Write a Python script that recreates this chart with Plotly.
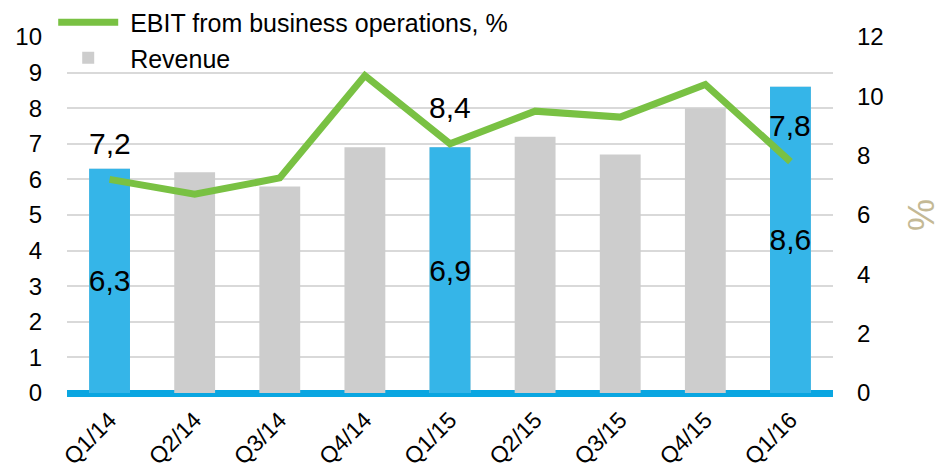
import plotly.graph_objects as go

quarters = ["Q1/14", "Q2/14", "Q3/14", "Q4/14", "Q1/15", "Q2/15", "Q3/15", "Q4/15", "Q1/16"]
revenue = [6.3, 6.2, 5.8, 6.9, 6.9, 7.2, 6.7, 8.0, 8.6]
ebit_pct = [7.2, 6.7, 7.25, 10.7, 8.4, 9.5, 9.3, 10.4, 7.8]
highlight = ["Q1/14", "Q1/15", "Q1/16"]

left_ticks = list(range(0, 11))
right_ticks = list(range(0, 13, 2))

BLUE = "#35b5e8"
GRAY = "#cdcdcd"
GREEN = "#79c143"
FONT = "Liberation Sans, Arial, sans-serif"


def fmt(v):
    return f"{v:.1f}".replace(".", ",")


hl_vals = [v if q in highlight else None for q, v in zip(quarters, revenue)]
hl_text = [fmt(v) if q in highlight else "" for q, v in zip(quarters, revenue)]

fig = go.Figure()

fig.add_trace(go.Scatter(
    x=quarters, y=ebit_pct, name="\u00a0EBIT from business operations, %",
    mode="lines", line=dict(color=GREEN, width=7), yaxis="y2",
))
fig.add_trace(go.Bar(
    x=quarters, y=revenue, name="\u00a0Revenue", marker=dict(color=GRAY, line=dict(width=0)),
))
fig.add_trace(go.Bar(
    x=quarters, y=hl_vals, name="Revenue (highlight)", showlegend=False,
    marker=dict(color=BLUE, line=dict(width=0)),
    text=hl_text, textposition="inside", insidetextanchor="middle",
    constraintext="none", cliponaxis=False,
    textfont=dict(size=30, color="#000000", family=FONT), textangle=0,
))

for q, v in zip(quarters, ebit_pct):
    if q in highlight:
        fig.add_annotation(
            x=q, y=v, xref="x", yref="y2", text=fmt(v), showarrow=False,
            yshift=36, font=dict(size=30, color="#000000", family=FONT),
        )

fig.update_layout(
    width=942, height=475,
    margin=dict(l=67, r=109, t=37, b=82, autoexpand=False),
    paper_bgcolor="white", plot_bgcolor="white",
    font=dict(family=FONT, color="#000000"),
    barmode="overlay", bargap=0.52,
    legend=dict(
        x=-0.018, y=1.105, xanchor="left", yanchor="top",
        bgcolor="rgba(0,0,0,0)", font=dict(size=25, family=FONT),
        itemwidth=60, traceorder="normal", tracegroupgap=0,
    ),
    xaxis=dict(
        categoryorder="array", categoryarray=quarters,
        tickangle=-45, tickfont=dict(size=23, family=FONT),
        showgrid=False, showline=False, ticks="", automargin=False,
        ticklabelstandoff=8,
    ),
    yaxis=dict(
        range=[0, 10], tickvals=left_ticks, tickfont=dict(size=24, family=FONT),
        showgrid=True, gridcolor="#d9d9d9", gridwidth=1.5,
        zeroline=True, zerolinecolor="#0aa6e1", zerolinewidth=7,
        showline=False, ticks="", ticklabelstandoff=24, automargin=False,
    ),
    yaxis2=dict(
        range=[0, 12], tickvals=right_ticks, tickfont=dict(size=24, family=FONT),
        overlaying="y", side="right", showgrid=False, zeroline=False,
        showline=False, ticks="", ticklabelstandoff=23, automargin=False,
        title=dict(text="%", font=dict(size=36, color="#c4b995", family=FONT), standoff=36),
    ),
)

fig.write_html(
    "out.html",
    config={"displayModeBar": False},
    post_script="document.body.style.margin='0';document.body.style.overflow='hidden';",
)
